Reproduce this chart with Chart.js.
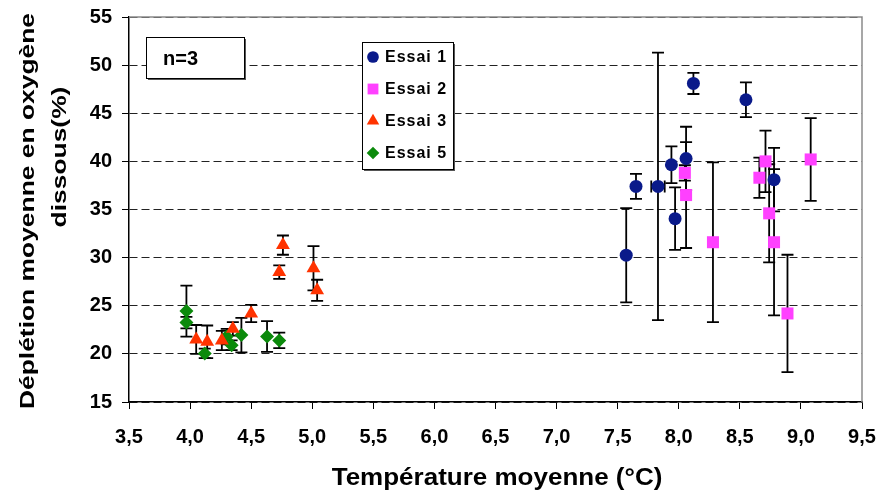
<!DOCTYPE html>
<html>
<head>
<meta charset="utf-8">
<script src="https://cdn.jsdelivr.net/npm/chart.js@4.4.0/dist/chart.umd.min.js"></script>
<style>
    html, body { margin: 0; padding: 0; background: #fff; }
    #wrap { width: 881px; height: 497px; }
</style>
</head>
<body>
<div id="wrap"><canvas id="chart" width="881" height="497"></canvas></div>
<script>
// data (x = température moyenne, y = déplétion, err = +/- barre)
const essai1X = [7.57, 7.65, 7.83, 7.94, 7.97, 8.06, 8.12, 8.55, 8.78];
const essai1Y = [30.25, 37.4, 37.4, 39.65, 34.05, 40.3, 48.1, 46.4, 38.1];
const essai1Err = [4.9, 1.3, 13.9, 1.9, 3.25, 3.3, 1.1, 1.8, 3.3];
const essai1XErr = [0, 0, 0.055, 0, 0, 0, 0, 0, 0];

const essai2X = [8.05, 8.06, 8.28, 8.66, 8.71, 8.74, 8.78, 8.89, 9.08];
const essai2Y = [38.8, 36.5, 31.6, 38.3, 40.0, 34.6, 31.6, 24.2, 40.2];
const essai2Err = [0.8, 5.5, 8.3, 2.1, 3.2, 5.1, 7.6, 6.1, 4.3];

const essai3X = [4.05, 4.14, 4.26, 4.35, 4.5, 4.73, 4.76, 5.01, 5.04];
const essai3Y = [21.5, 21.25, 21.4, 22.6, 24.2, 28.5, 31.3, 28.9, 26.6];
const essai3Err = [1.5, 1.7, 1.0, 0.7, 0.9, 0.7, 1.0, 2.3, 1.1];

const essai5X = [3.97, 3.97, 4.12, 4.30, 4.34, 4.42, 4.63, 4.73];
const essai5Y = [24.45, 23.25, 20.05, 21.8, 20.9, 21.95, 21.8, 21.4];
const essai5Err = [2.65, 0.6, 0.5, 0.8, 0.5, 1.8, 1.6, 0.8];

const seriesNames = ['Essai 1', 'Essai 2', 'Essai 3', 'Essai 5'];
const xTickLabels = ['3,5', '4,0', '4,5', '5,0', '5,5', '6,0', '6,5', '7,0', '7,5', '8,0', '8,5', '9,0', '9,5'];
const yTickLabels = ['15', '20', '25', '30', '35', '40', '45', '50', '55'];
const xTitle = 'Température moyenne (°C)';
const yTitleLines = ['Déplétion moyenne en oxygène', 'dissous(%)'];
const noteText = 'n=3';

const FONT = '"Liberation Sans", Arial, sans-serif';

function points(xs, ys) {
    return xs.map(function (x, i) { return { x: x, y: ys[i] }; });
}

const errorBars = {
    id: 'errorBars',
    beforeDatasetsDraw(chart) {
        const ctx = chart.ctx;
        const xs = chart.scales.x, ys = chart.scales.y;
        const a = chart.chartArea;
        // grey frame top / right
        ctx.save();
        ctx.strokeStyle = '#8a8a8a';
        ctx.lineWidth = 1.5;
        ctx.beginPath();
        ctx.moveTo(a.left, a.top);
        ctx.lineTo(a.right, a.top);
        ctx.lineTo(a.right, a.bottom);
        ctx.stroke();
        ctx.restore();

        ctx.save();
        ctx.strokeStyle = '#000';
        ctx.lineWidth = 1.8;
        chart.data.datasets.forEach(function (ds) {
            ds.data.forEach(function (p, i) {
                const e = ds.errY[i];
                const px = xs.getPixelForValue(p.x);
                const top = ys.getPixelForValue(p.y + e);
                const bot = ys.getPixelForValue(p.y - e);
                ctx.beginPath();
                ctx.moveTo(px, top); ctx.lineTo(px, bot);
                ctx.moveTo(px - 6, top); ctx.lineTo(px + 6, top);
                ctx.moveTo(px - 6, bot); ctx.lineTo(px + 6, bot);
                if (ds.errX && ds.errX[i]) {
                    const py = ys.getPixelForValue(p.y);
                    const l = xs.getPixelForValue(p.x - ds.errX[i]);
                    const r = xs.getPixelForValue(p.x + ds.errX[i]);
                    ctx.moveTo(l, py); ctx.lineTo(r, py);
                    ctx.moveTo(l, py - 6); ctx.lineTo(l, py + 6);
                    ctx.moveTo(r, py - 6); ctx.lineTo(r, py + 6);
                }
                ctx.stroke();
            });
        });
        ctx.restore();
    }
};

function boxWithShadow(ctx, x, y, w, h) {
    ctx.fillStyle = '#555';
    ctx.fillRect(x + 2, y + 2, w, h);
    ctx.fillStyle = '#fff';
    ctx.fillRect(x, y, w, h);
    ctx.strokeStyle = '#000';
    ctx.lineWidth = 1;
    ctx.strokeRect(x + 0.5, y + 0.5, w, h);
}

const decorations = {
    id: 'decorations',
    afterDraw(chart) {
        const ctx = chart.ctx;
        // y title, two lines
        ctx.save();
        ctx.fillStyle = '#000';
        ctx.font = 'bold 24px ' + FONT;
        ctx.textAlign = 'center';
        ctx.textBaseline = 'middle';
        ctx.save();
        ctx.translate(28, 211);
        ctx.rotate(-Math.PI / 2);
        ctx.scale(1.1, 0.85);
        ctx.fillText(yTitleLines[0], 0, 0);
        ctx.restore();
        ctx.save();
        ctx.translate(60, 157);
        ctx.rotate(-Math.PI / 2);
        ctx.scale(1.1, 0.85);
        ctx.fillText(yTitleLines[1], 0, 0);
        ctx.restore();

        // x title
        ctx.save();
        ctx.translate(497, 479);
        ctx.scale(1, 0.9);
        ctx.font = 'bold 26px ' + FONT;
        ctx.fillText(xTitle, 0, 0);
        ctx.restore();

        // n=3 box
        boxWithShadow(ctx, 146, 37, 98, 41);
        ctx.fillStyle = '#000';
        ctx.font = 'bold 20px ' + FONT;
        ctx.textAlign = 'left';
        ctx.fillText(noteText, 163, 59);

        // legend
        boxWithShadow(ctx, 362, 42, 91, 127);
        const rows = [57, 89, 121, 153];
        chart.data.datasets.forEach(function (ds, i) {
            const opts = {
                pointStyle: ds.pointStyle,
                radius: ds.pointRadius * 0.9,
                rotation: 0,
                borderWidth: 0
            };
            ctx.fillStyle = ds.backgroundColor;
            ctx.strokeStyle = ds.backgroundColor;
            Chart.helpers.drawPoint(ctx, opts, 373, rows[i]);
            ctx.fillStyle = '#000';
            ctx.font = 'bold 16px ' + FONT;
            ctx.letterSpacing = '1px';
            ctx.textAlign = 'left';
            ctx.fillText(ds.label, 385, rows[i] + 1);
        });
        ctx.restore();
    }
};

const ctx = document.getElementById('chart');

const chart = new Chart(ctx, {
    type: 'scatter',
    data: {
        datasets: [{
            label: seriesNames[0],
            data: points(essai1X, essai1Y),
            errY: essai1Err,
            errX: essai1XErr,
            backgroundColor: '#0a1a8a',
            borderColor: '#0a1a8a',
            pointStyle: 'circle',
            pointRadius: 6.5,
            borderWidth: 0
        }, {
            label: seriesNames[1],
            data: points(essai2X, essai2Y),
            errY: essai2Err,
            backgroundColor: '#ff40ff',
            borderColor: '#ff40ff',
            pointStyle: 'rect',
            pointRadius: 8.5,
            borderWidth: 0
        }, {
            label: seriesNames[2],
            data: points(essai3X, essai3Y),
            errY: essai3Err,
            backgroundColor: '#ff3300',
            borderColor: '#ff3300',
            pointStyle: 'triangle',
            pointRadius: 8,
            borderWidth: 0
        }, {
            label: seriesNames[3],
            data: points(essai5X, essai5Y),
            errY: essai5Err,
            backgroundColor: '#0b8a0b',
            borderColor: '#0b8a0b',
            pointStyle: 'rectRot',
            pointRadius: 7,
            borderWidth: 0
        }]
    },
    options: {
        responsive: false,
        animation: false,
        devicePixelRatio: 1,
        layout: {
            padding: { left: 0, right: 19, top: 17, bottom: 0 }
        },
        plugins: {
            legend: { display: false },
            tooltip: { enabled: false }
        },
        scales: {
            x: {
                type: 'linear',
                min: 3.5,
                max: 9.5,
                afterFit: function (s) {
                    s.height = 95;
                    s.paddingLeft = 0;
                    s.paddingRight = 0;
                },
                afterBuildTicks: function (s) {
                    s.ticks = xTickLabels.map(function (t) { return { value: parseFloat(t.replace(',', '.')) }; });
                },
                ticks: {
                    autoSkip: false,
                    maxRotation: 0,
                    color: '#000',
                    padding: 16,
                    font: { family: FONT, size: 20, weight: 'bold' },
                    callback: function (v, i) { return xTickLabels[i]; }
                },
                grid: {
                    drawOnChartArea: false,
                    drawTicks: true,
                    tickLength: 7,
                    tickColor: '#000',
                    tickWidth: 1,
                    tickBorderDash: []
                },
                border: { color: '#000', width: 1.5 }
            },
            y: {
                type: 'linear',
                min: 15,
                max: 55,
                afterFit: function (s) {
                    s.width = 129;
                    s.paddingTop = 0;
                    s.paddingBottom = 0;
                },
                afterBuildTicks: function (s) {
                    s.ticks = yTickLabels.map(function (t) { return { value: parseFloat(t) }; });
                },
                ticks: {
                    color: '#000',
                    padding: 10,
                    font: { family: FONT, size: 20, weight: 'bold' },
                    callback: function (v, i) { return yTickLabels[i]; }
                },
                grid: {
                    color: '#222',
                    lineWidth: 1,
                    drawTicks: true,
                    tickLength: 7,
                    tickColor: '#000',
                    tickWidth: 1,
                    tickBorderDash: []
                },
                border: { color: '#000', width: 1.5, dash: [8, 4] }
            }
        }
    },
    plugins: [errorBars, decorations]
});
</script>
</body>
</html>
